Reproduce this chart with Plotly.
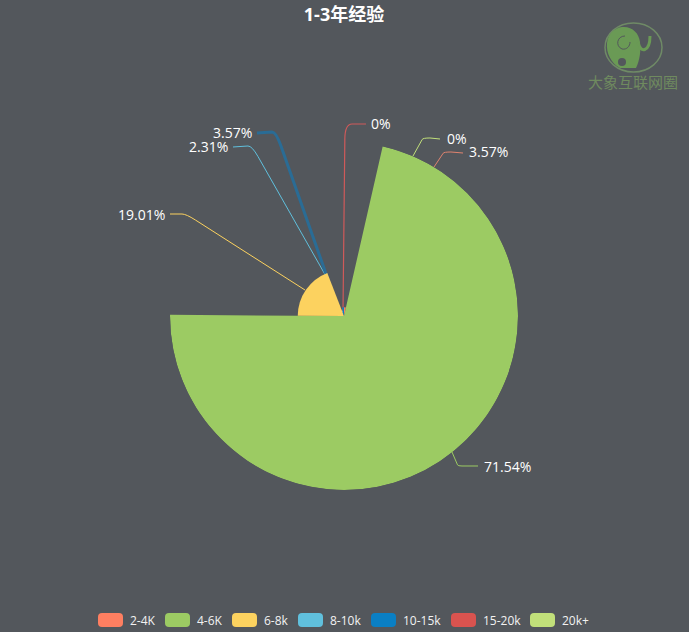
import plotly.graph_objects as go

W, H = 689, 632
categories = ["2-4K", "4-6K", "6-8k", "8-10k", "10-15k", "15-20k", "20k+"]
values = [3.57, 71.54, 19.01, 2.31, 3.57, 0, 0]
labels = ["3.57%", "71.54%", "19.01%", "2.31%", "3.57%", "0%", "0%"]
colors = ["#ff7f61", "#9ccb63", "#fcd25f", "#60c0dd", "#0a7fc4", "#d9534f", "#c1e07a"]
BG = "#53575c"
CX, CY, R = 344, 316, 174

def px(x): return x / W
def py(y): return 1 - y / H
def P(cmds):
    out = []
    for c in cmds:
        if isinstance(c, str):
            out.append(c)
        else:
            out.append(f"{px(c[0]):.5f},{py(c[1]):.5f}")
    return " ".join(out)

total = sum(values)
theta, width, acc = [], [], 0
for v in values:
    w = v / total * 360
    theta.append(acc + w / 2)
    width.append(w)
    acc += w

fig = go.Figure(go.Barpolar(
    r=values, theta=theta, width=width, marker=dict(color=colors, line=dict(width=0)),
    customdata=categories, hovertemplate="%{customdata}: %{r}%<extra></extra>", showlegend=False))

shapes, ann = [], []

# leader lines: category index, path, width, label anchor
leaders = [
    (0, [(434, 167), (444, 152), (451, 152), (463, 153)], 1, (467, 152), "left"),
    (1, [(452, 452), (458, 466), (462, 466), (478, 466)], 1, (482, 466), "left"),
    (2, [(305, 290), (186, 214), (182, 214), (170, 214)], 1, (167, 214), "right"),
    (3, [(327, 278), (252, 146), (248, 146), (233, 147)], 1, (230, 146), "right"),
    (4, [(337, 305), (276, 132), (272, 132), (257, 133)], 3, (254, 132), "right"),
    (5, [(343, 312), (345, 124), (352, 124), (366, 124)], 1.2, (369, 124), "left"),
    (6, [(413, 156), (423, 138), (430, 138), (440, 139)], 1, (445, 138), "left"),
]
line_colors = {4: "#2a6c95", 0: "#e0836f", 5: "#cf5a5a"}
for i, pts, lw, lab, side in leaders:
    p0, p1, p2, p3 = pts
    path = P(["M", p0, "L", (p1[0] + (p0[0]-p1[0])*0.08, p1[1] + (p0[1]-p1[1])*0.08), "Q", p1, p2, "L", p3])
    shapes.append(dict(type="path", xref="paper", yref="paper", layer="below", path=path,
                       line=dict(color=line_colors.get(i, colors[i]), width=lw)))
    ann.append(dict(x=px(lab[0]), y=py(lab[1]), xref="paper", yref="paper", text=labels[i], showarrow=False,
                    xanchor=side, yanchor="middle", font=dict(size=14, color="#ffffff")))

# legend
legend_x = [98, 165, 232, 298, 371, 451, 530]
for name, c, x in zip(categories, colors, legend_x):
    x0, x1, y0, y1, r = x, x + 25, 613, 627, 4
    path = P(["M", (x0 + r, y0), "L", (x1 - r, y0), "Q", (x1, y0), (x1, y0 + r), "L", (x1, y1 - r), "Q", (x1, y1), (x1 - r, y1),
              "L", (x0 + r, y1), "Q", (x0, y1), (x0, y1 - r), "L", (x0, y0 + r), "Q", (x0, y0), (x0 + r, y0), "Z"])
    shapes.append(dict(type="path", xref="paper", yref="paper", path=path, fillcolor=c, line=dict(width=0)))
    ann.append(dict(x=px(x + 30), y=py(620), xref="paper", yref="paper", text=name, showarrow=False,
                    xanchor="left", yanchor="middle", font=dict(size=12, color="#f2f2f2")))

# watermark logo
G = "#6a9a55"
shapes.append(dict(type="circle", xref="paper", yref="paper", x0=px(605), x1=px(662), y0=py(23), y1=py(72),
                   line=dict(color="#6f8a66", width=1.5)))
body = P(["M", (622, 27), "C", (632, 26), (639, 33), (640, 42), "C", (641, 50), (640, 60), (636, 68),
          "L", (620, 68), "C", (611, 63), (606, 53), (607, 43), "C", (608, 34), (614, 28), (622, 27), "Z"])
shapes.append(dict(type="path", xref="paper", yref="paper", path=body, fillcolor=G, line=dict(width=0)))
trunk = P(["M", (638, 42), "C", (640, 54), (650, 52), (650, 36)])
shapes.append(dict(type="path", xref="paper", yref="paper", path=trunk, line=dict(color=G, width=3)))
shapes.append(dict(type="circle", xref="paper", yref="paper", x0=px(618), x1=px(626), y0=py(58), y1=py(66),
                   fillcolor=BG, line=dict(width=0)))
ear = P(["M", (625, 36), "C", (617, 36), (615, 46), (622, 49), "C", (627, 50), (630, 46), (630, 42)])
shapes.append(dict(type="path", xref="paper", yref="paper", path=ear, line=dict(color=BG, width=1)))
ann.append(dict(x=px(632.5), y=py(81), xref="paper", yref="paper", text="大象互联网圈", showarrow=False,
                xanchor="center", yanchor="middle",
                font=dict(size=15, color="#6f8a5f", family="Noto Sans CJK SC")))

fig.update_layout(
    width=W, height=H, autosize=False, paper_bgcolor=BG, plot_bgcolor=BG,
    margin=dict(l=0, r=0, t=0, b=0), showlegend=False,
    font=dict(family="'Open Sans','Noto Sans CJK SC',sans-serif", color="#ffffff"),
    title=dict(text="<b>1-3年经验</b>", x=344 / W, y=py(15), xanchor="center", yanchor="middle",
               font=dict(size=18, color="#ffffff", family="'Open Sans','Noto Sans CJK SC',sans-serif")),
    polar=dict(
        domain=dict(x=[px(CX - R), px(CX + R)], y=[py(CY + R), py(CY - R)]),
        bgcolor="rgba(0,0,0,0)", barmode="overlay",
        radialaxis=dict(range=[0, max(values)], visible=False),
        angularaxis=dict(rotation=90, direction="clockwise", visible=False, thetaunit="degrees"),
    ),
    shapes=shapes, annotations=ann,
)
fig.write_html("out.html", post_script="document.body.style.margin='0';", config=dict(displayModeBar=False))
